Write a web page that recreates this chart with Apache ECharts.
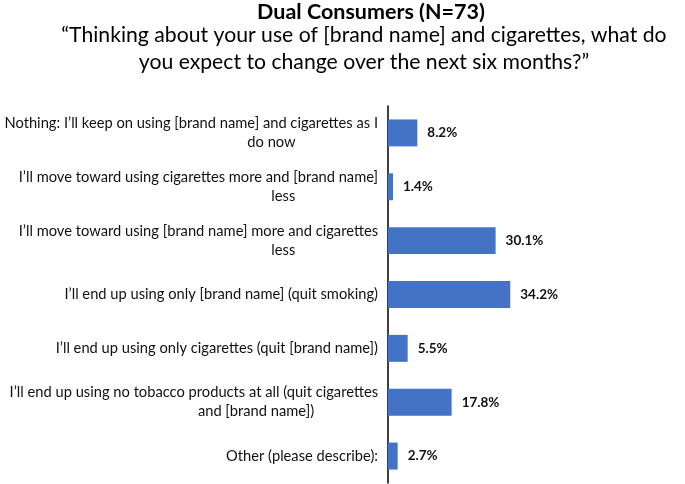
<!DOCTYPE html>
<html>
<head>
<meta charset="utf-8">
<script src="https://cdn.jsdelivr.net/npm/echarts@6/dist/echarts.min.js"></script>
<style>
  html, body { margin: 0; padding: 0; background: #fff; }
  #chart { width: 685px; height: 484px; }
</style>
</head>
<body>
<div id="chart"></div>
<script>
// answer categories (\n marks where the label wraps)
var categories = [
  "Nothing: I\u2019ll keep on using [brand name] and cigarettes as I\ndo now",
  "I\u2019ll move toward using cigarettes more and [brand name]\nless",
  "I\u2019ll move toward using [brand name] more and cigarettes\nless",
  "I\u2019ll end up using only [brand name] (quit smoking)",
  "I\u2019ll end up using only cigarettes (quit [brand name])",
  "I\u2019ll end up using no tobacco products at all (quit cigarettes\nand [brand name])",
  "Other (please describe):"
];
// percent of respondents
var percents = [8.2, 1.4, 30.1, 34.2, 5.5, 17.8, 2.7];

var titleText = "Dual Consumers (N=73)";
var questionText = "\u201CThinking about your use of [brand name] and cigarettes, what do\nyou expect to change over the next six months?\u201D";

var fontFamily = "Lato, 'Open Sans', sans-serif";
var labelSize = 14.7;

// trailing spaces on the second line to pull it towards the middle of the first
// (the measured gap came out doubled in practice, hence the /2 below)
var ctx = document.createElement("canvas").getContext("2d");
ctx.font = labelSize + "px " + fontFamily;
var nbsp = "\u00A0";
var spaceW = ctx.measureText(nbsp).width;
var labelText = categories.map(function (c) {
  var lines = c.split("\n");
  if (lines.length < 2) return c;
  var pad = (ctx.measureText(lines[0]).width - ctx.measureText(lines[1]).width) / 2;
  var n = Math.max(0, Math.round(pad / spaceW / 2));
  return lines[0] + "\n" + lines[1] + new Array(n + 1).join(nbsp);
});

var myChart = echarts.init(document.getElementById("chart"));
myChart.setOption({
  backgroundColor: "#fff",
  title: [
    {
      text: titleText,
      left: 366,
      top: -4,
      textAlign: "center",
      textStyle: { fontFamily: fontFamily, fontSize: 21.5, fontWeight: "bold", color: "#000" }
    },
    {
      text: questionText,
      left: 359,
      top: 17,
      textAlign: "center",
      textStyle: { fontFamily: fontFamily, fontSize: 21.2, fontWeight: "normal", color: "#000", lineHeight: 27, align: "center" }
    }
  ],
  grid: { left: 388, right: 154, top: 106, bottom: 1 },
  xAxis: {
    type: "value",
    min: 0,
    max: 40,
    show: false,
    splitLine: { show: false }
  },
  yAxis: {
    type: "category",
    data: categories,
    inverse: true,
    axisLine: { show: true, lineStyle: { color: "#000", width: 1.5 } },
    axisTick: { show: false },
    axisLabel: {
      margin: 10,
      fontFamily: fontFamily,
      fontSize: labelSize,
      color: "#111",
      lineHeight: 19,
      formatter: function (value, index) {
        return labelText[index];
      }
    }
  },
  series: [
    {
      type: "bar",
      data: percents,
      barWidth: "50%",
      itemStyle: { color: "#4472C4" },
      label: {
        show: true,
        position: "right",
        distance: 10,
        formatter: function (p) { return p.value.toFixed(1) + "%"; },
        fontFamily: fontFamily,
        fontSize: 13.5,
        fontWeight: "bold",
        color: "#111"
      }
    }
  ]
});
</script>
</body>
</html>
